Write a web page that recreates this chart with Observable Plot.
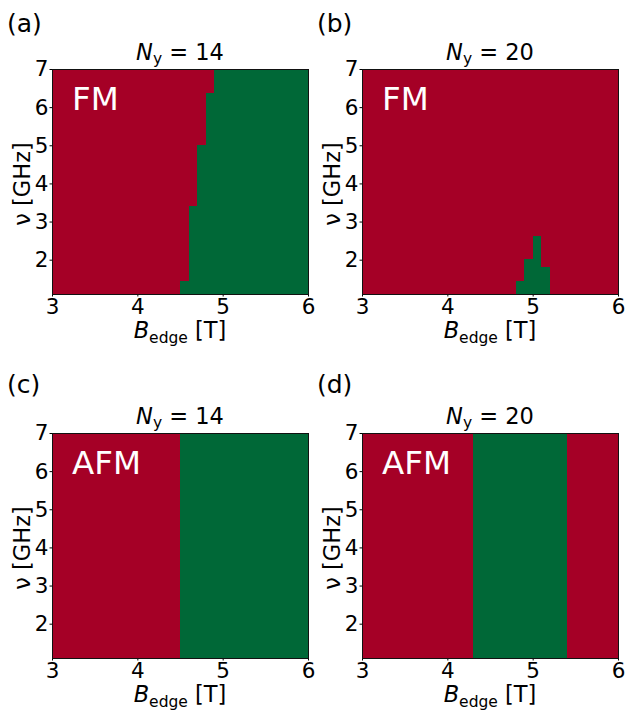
<!DOCTYPE html>
<html><head><meta charset="utf-8">
<script src="https://cdn.jsdelivr.net/npm/d3@7"></script>
<script src="https://cdn.jsdelivr.net/npm/@observablehq/plot@0.6"></script>
<style>
body{margin:0;background:#fff;}
#fig{position:relative;width:626px;height:711px;font-family:"DejaVu Sans";}
#fig svg{position:absolute;}
</style></head><body><div id="fig"></div>
<script>
// axes
const xTicks = [3, 4, 5, 6];
const yTicks = [2, 3, 4, 5, 6, 7];
const bDomain = [3, 6];
const nuDomain = [1.1, 7];

// (a) FM, Ny = 14 : phase-1 region above critical field in each frequency band
const aNuLow  = [1.1, 1.43, 3.41, 5.0, 6.36];
const aNuHigh = [1.43, 3.41, 5.0, 6.36, 7];
const aBcrit  = [4.5, 4.6, 4.7, 4.8, 4.9];

// (b) FM, Ny = 20 : small phase-1 pocket
const bBlow  = [4.8, 4.9, 5.0, 5.1];
const bBhigh = [4.9, 5.0, 5.1, 5.2];
const bNuTop = [1.43, 2.03, 2.61, 1.82];

// (c) AFM, Ny = 14
const cBlow = [4.5];
const cBhigh = [6];

// (d) AFM, Ny = 20
const dBlow = [4.3];
const dBhigh = [5.4];

const panelLetters = ["(a)", "(b)", "(c)", "(d)"];
const nyValues = [14, 20, 14, 20];
const phaseLabels = ["FM", "FM", "AFM", "AFM"];

const RED = "#a50026", GREEN = "#006837";

const regions = [
  aBcrit.map((b, i) => ({B1: b, B2: 6, nu1: aNuLow[i], nu2: aNuHigh[i], phase: 1})),
  bBlow.map((b, i) => ({B1: b, B2: bBhigh[i], nu1: nuDomain[0], nu2: bNuTop[i], phase: 1})),
  cBlow.map((b, i) => ({B1: b, B2: cBhigh[i], nu1: nuDomain[0], nu2: nuDomain[1], phase: 1})),
  dBlow.map((b, i) => ({B1: b, B2: dBhigh[i], nu1: nuDomain[0], nu2: nuDomain[1], phase: 1}))
];
const background = [{B1: bDomain[0], B2: bDomain[1], nu1: nuDomain[0], nu2: nuDomain[1], phase: 0}];

const layout = [
  {left: 0, top: 0, letterY: 32},
  {left: 310, top: 0, letterY: 32},
  {left: 0, top: 364, letterY: 29},
  {left: 310, top: 364, letterY: 29}
];

const fig = document.getElementById("fig");
const ML = 52, MT = 69, W = 313, H = 350, PW = 256;
const intFmt = d => String(d);

regions.forEach((greens, i) => {
  const svg = Plot.plot({
    width: W, height: H,
    marginLeft: ML, marginRight: W - ML - PW, marginTop: MT, marginBottom: 56,
    x: {domain: bDomain, ticks: xTicks, tickFormat: intFmt, tickSize: 2.5, tickPadding: 1.5, label: null},
    y: {domain: nuDomain, ticks: yTicks, tickFormat: intFmt, tickSize: 2.5, tickPadding: 1.5, label: null},
    color: {type: "ordinal", domain: [0, 1], range: [RED, GREEN]},
    style: {fontFamily: "DejaVu Sans", fontSize: "21.5px", color: "#000", background: "transparent", overflow: "visible"},
    marks: [
      Plot.rect(background, {x1: "B1", x2: "B2", y1: "nu1", y2: "nu2", fill: "phase", shapeRendering: "crispEdges"}),
      Plot.rect(greens, {x1: "B1", x2: "B2", y1: "nu1", y2: "nu2", fill: "phase", shapeRendering: "crispEdges"}),
      Plot.text([phaseLabels[i]], {text: d => d, frameAnchor: "top-left", dx: 19.5, dy: 17.5, fill: "white", fontSize: 32.5, textAnchor: "start", lineAnchor: "top"}),
      Plot.frame({stroke: "#111", strokeWidth: 1})
    ]
  });
  svg.style.left = layout[i].left + "px";
  svg.style.top = layout[i].top + "px";
  const s = d3.select(svg);
  const cx = ML + PW / 2;
  // panel letter
  s.append("text").attr("x", 7).attr("y", layout[i].letterY).attr("text-anchor", "start")
    .attr("font-size", 25).attr("fill", "#000").text(panelLetters[i]);
  // title
  const t = s.append("text").attr("x", cx).attr("y", 60).attr("text-anchor", "middle")
    .attr("font-size", 22.5).attr("fill", "#000");
  t.append("tspan").attr("font-style", "italic").text("N");
  t.append("tspan").attr("font-size", 15.5).attr("dy", 4).text("y");
  t.append("tspan").attr("dy", -4).text("\u00a0=\u00a0" + nyValues[i]);
  // x label
  const xl = s.append("text").attr("x", cx).attr("y", 338).attr("text-anchor", "middle")
    .attr("font-size", 22.5).attr("fill", "#000");
  xl.append("tspan").attr("font-style", "italic").text("B");
  xl.append("tspan").attr("font-size", 15.5).attr("dy", 5).text("edge");
  xl.append("tspan").attr("dy", -5).text("\u00a0[T]");
  // y label
  s.append("text").attr("transform", `translate(30,${MT + 115}) rotate(-90)`)
    .attr("text-anchor", "middle").attr("font-size", 22.5).attr("fill", "#000")
    .text("\u03bd [GHz]");
  fig.appendChild(svg);
});
</script></body></html>
